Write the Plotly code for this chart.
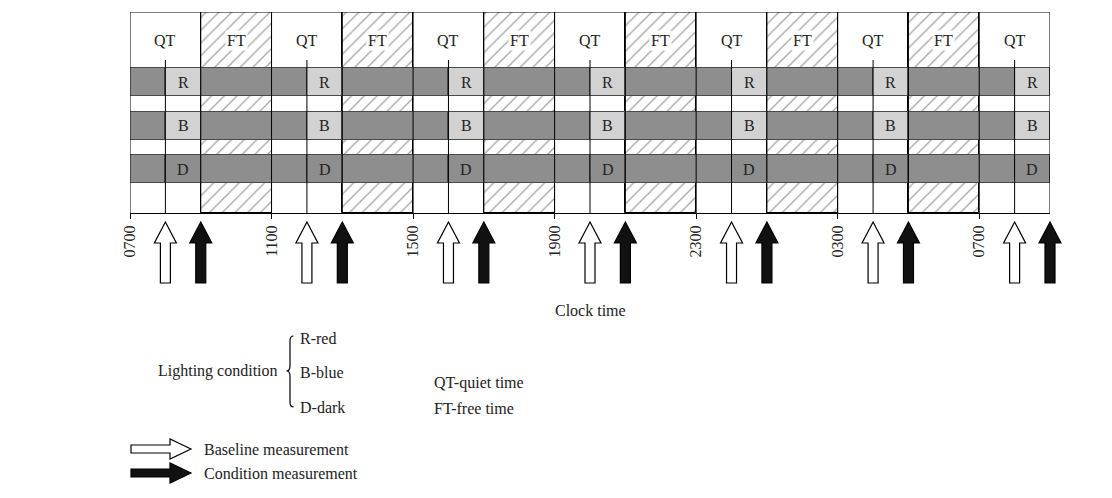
import plotly.graph_objects as go

# ---------------------------------------------------------------------------
# Protocol data (hours from 0700 on day 1)
# ---------------------------------------------------------------------------
qt_starts = [0, 4, 8, 12, 16, 20, 24]          # quiet-time blocks, 2 h each
ft_starts = [2, 6, 10, 14, 18, 22]             # free-time blocks, 2 h each
block_len = 2
baseline_hours = [1, 5, 9, 13, 17, 21, 25]     # open arrows
condition_hours = [2, 6, 10, 14, 18, 22, 26]   # black arrows
tick_hours = [0, 4, 8, 12, 16, 20, 24]
tick_labels = ["0700", "1100", "1500", "1900", "2300", "0300", "0700"]
sessions = ["Red", "Blue", "Dark"]
session_letters = ["R", "B", "D"]
session_y = [131, 87.5, 44]
session_light = [True, True, False]
span_end = 26

FONT = "Liberation Serif"
DARK = "#8e8e8e"
LIGHT = "#d2d2d2"
EDGE = "#4a4a4a"
TOP = 201
BAR_H = 28


def hx(px):  # pixel -> hours (used for legend/text placement only)
    return (px - 130) / 920 * span_end


def yy(py):
    return 213 - py


fig = go.Figure()

# ── FT hatched columns ──────────────────────────────────────────────────────
fig.add_trace(go.Bar(
    x=[s + block_len / 2 for s in ft_starts], y=[TOP] * len(ft_starts),
    base=0, width=block_len,
    marker=dict(color="white", line=dict(color="black", width=1),
                pattern=dict(shape="/", fgcolor="#4f4f4f", bgcolor="white",
                             size=9, solidity=0.15)),
    hoverinfo="skip", showlegend=False,
))

shapes = []
# hour-1 vertical lines inside each QT
for h in baseline_hours:
    shapes.append(dict(type="line", x0=h, x1=h, y0=0, y1=yy(60),
                       line=dict(color="black", width=1)))

# ── Session bars ────────────────────────────────────────────────────────────
for name, y, light in zip(sessions, session_y, session_light):
    fig.add_trace(go.Bar(
        orientation="h", y=[y], x=[span_end], base=[0], width=BAR_H,
        marker=dict(color=DARK, line=dict(color=EDGE, width=1)),
        hoverinfo="skip", showlegend=False,
    ))
    fig.add_trace(go.Bar(
        orientation="h", y=[y] * len(qt_starts), x=[1] * len(qt_starts),
        base=[s + 1 for s in qt_starts], width=BAR_H,
        marker=dict(color=LIGHT if light else DARK, line=dict(color=EDGE, width=1)),
        hoverinfo="skip", showlegend=False,
    ))

# block boundaries and frame
for b in [0] + ft_starts + [s + block_len for s in ft_starts] + [span_end]:
    shapes.append(dict(type="line", x0=b, x1=b, y0=0, y1=TOP,
                       line=dict(color="black", width=1)))
shapes.append(dict(type="line", x0=0, x1=span_end, y0=TOP, y1=TOP,
                   line=dict(color="black", width=1)))


# ── Arrows (x in paper fraction so the last one is not clipped) ─────────────
def up_arrow(h):
    c = h / span_end
    sw, hw = 5 / 920, 11 / 920
    tip, hb, bot = -9, -30, -70
    return (f"M {c} {tip} L {c + hw} {hb} L {c + sw} {hb} L {c + sw} {bot} "
            f"L {c - sw} {bot} L {c - sw} {hb} L {c - hw} {hb} Z")


for h in baseline_hours:
    shapes.append(dict(type="path", xref="paper", yref="y", path=up_arrow(h),
                       fillcolor="white", line=dict(color="black", width=1.2)))
for h in condition_hours:
    shapes.append(dict(type="path", xref="paper", yref="y", path=up_arrow(h),
                       fillcolor="#111111", line=dict(color="black", width=1.2)))


def right_arrow(py):
    x0, x1, xh = hx(131), hx(191), hx(170)
    y = yy(py)
    return (f"M {x1} {y} L {xh} {y + 10} L {xh} {y + 4} L {x0} {y + 4} "
            f"L {x0} {y - 4} L {xh} {y - 4} L {xh} {y - 10} Z")


shapes.append(dict(type="path", path=right_arrow(449), fillcolor="white",
                   line=dict(color="black", width=1.2)))
shapes.append(dict(type="path", path=right_arrow(473), fillcolor="#111111",
                   line=dict(color="black", width=1.2)))

# brace
bx = hx(290)
bt, bm, bb = yy(336), yy(371), yy(407)
d = 3.5 / 920 * span_end
shapes.append(dict(type="path", line=dict(color="black", width=1.2),
                   path=(f"M {bx + d} {bt} Q {bx} {bt} {bx} {bt - 5} L {bx} {bm + 5} "
                         f"Q {bx} {bm} {bx - d} {bm} Q {bx} {bm} {bx} {bm - 5} "
                         f"L {bx} {bb + 5} Q {bx} {bb} {bx + d} {bb}")))

# ── Text ────────────────────────────────────────────────────────────────────
ann = []
tf = dict(family=FONT, size=16, color="#222222")
for s in qt_starts:
    ann.append(dict(x=s + 1, y=yy(40), text="QT", showarrow=False, font=tf))
for s in ft_starts:
    ann.append(dict(x=s + 1, y=yy(40), text="FT", showarrow=False, font=tf,
                    bgcolor="white"))
for name, letter, y in zip(sessions, session_letters, session_y):
    ann.append(dict(x=hx(122), y=y, text=name, showarrow=False, font=tf,
                    xanchor="right"))
    for s in qt_starts:
        ann.append(dict(x=s + 1.5, y=y, text=letter, showarrow=False, font=tf))
ann.append(dict(x=hx(62), y=yy(125), text="Session", showarrow=False, font=tf,
                textangle=-90))
ann.append(dict(x=hx(590), y=yy(310), text="Clock time", showarrow=False, font=tf))
ann.append(dict(x=hx(280), y=yy(371), text="Lighting condition", showarrow=False,
                font=tf, xanchor="right"))
for t, py in [("R-red", 338), ("B-blue", 372), ("D-dark", 407)]:
    ann.append(dict(x=hx(298), y=yy(py), text=t, showarrow=False, font=tf,
                    xanchor="left"))
ann.append(dict(x=hx(432), y=yy(383), text="QT-quiet time", showarrow=False,
                font=tf, xanchor="left"))
ann.append(dict(x=hx(432), y=yy(408), text="FT-free time", showarrow=False,
                font=tf, xanchor="left"))
ann.append(dict(x=hx(202), y=yy(449), text="Baseline measurement", showarrow=False,
                font=tf, xanchor="left"))
ann.append(dict(x=hx(202), y=yy(473), text="Condition measurement", showarrow=False,
                font=tf, xanchor="left"))

# page body adds an 8 px offset, so margins are reduced by that much
fig.update_layout(
    width=1112, height=498,
    margin=dict(l=122, r=70, t=4, b=8),
    paper_bgcolor="white", plot_bgcolor="white",
    barmode="overlay", bargap=0,
    shapes=shapes, annotations=ann,
    xaxis=dict(range=[0, span_end], showgrid=False, zeroline=False,
               anchor="free", position=285 / 486,
               showline=True, linecolor="black", linewidth=1,
               ticks="outside", ticklen=5, tickcolor="black",
               tickvals=tick_hours, ticktext=tick_labels, tickangle=-90,
               tickfont=tf),
    yaxis=dict(range=[-285, 201], visible=False),
)

fig.write_html("out.html")
